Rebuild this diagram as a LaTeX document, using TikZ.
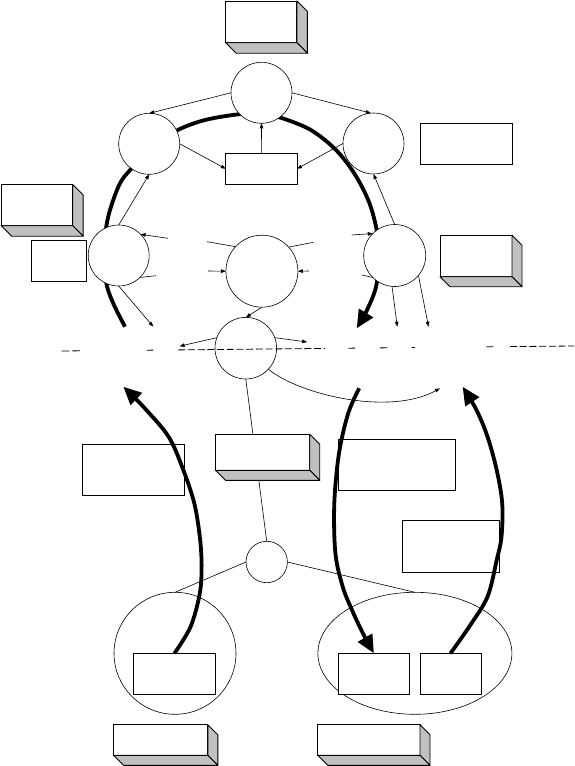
\documentclass[tikz,border=0pt]{standalone}
\usetikzlibrary{arrows.meta,shapes.geometric,backgrounds}
\definecolor{shade}{HTML}{C0C0C0}
\tikzset{
  ring/.style={circle, draw, line width=0.6pt, fill=white, inner sep=0pt, outer sep=0pt},
  oval/.style={ellipse, draw, line width=0.6pt, inner sep=0pt, outer sep=0pt},
  plainbox/.style={rectangle, draw, line width=0.9pt, fill=white, inner sep=0pt, outer sep=0pt, anchor=north west},
  face/.style={fill=shade, draw, line width=0.9pt, line join=round},
  conn/.style={line width=0.6pt, -{Triangle[length=5pt,width=3.6pt]}},
  stub/.style={line width=0.6pt},
  bigarrow/.style={line width=3.8pt, line cap=butt, -{Triangle[length=18pt,width=16pt]}},
  bigline/.style={line width=3.8pt, line cap=butt},
  dashrule/.style={line width=0.8pt},
}
\newcommand{\deepbox}[6]{%
  \node[plainbox, minimum width=#4pt, minimum height=#5pt] (#1) at (#2,#3) {};
  \filldraw[face] (#1.north east) -- ++(#6,#6) -- ([shift={(#6,#6)}]#1.south east) -- (#1.south east) -- cycle;
  \filldraw[face] (#1.south west) -- ++(#6,#6) -- ([shift={(#6,#6)}]#1.south east) -- (#1.south east) -- cycle;
}
\begin{document}
\begin{tikzpicture}[x=1pt,y=-1pt]
\useasboundingbox (0,0) rectangle (574,766);

% circles
\node[ring, minimum size=61pt] (tc) at (261.5,92.8) {};
\node[ring, minimum size=61pt] (ul) at (149.2,143.8) {};
\node[ring, minimum size=61pt] (ur) at (373.5,143.5) {};
\node[ring, minimum size=61pt] (ml) at (118.7,255.5) {};
\node[ring, minimum size=72pt] (mc) at (261.9,271.2) {};
\node[ring, minimum size=62pt] (mr) at (394.7,255.5) {};
\node[ring, minimum size=61.6pt] (lc) at (245.8,348.2) {};
\node[ring, minimum size=41.4pt] (sc) at (266.7,562) {};
\node[oval, minimum width=122pt, minimum height=122pt] (le) at (175,653.3) {};
\node[oval, minimum width=194pt, minimum height=122pt] (re) at (414.9,653.3) {};

% plain boxes
\node[plainbox, minimum width=92pt, minimum height=41pt] (rb) at (420,123.3) {};
\node[plainbox, minimum width=71.2pt, minimum height=31pt] (cb) at (225.8,153.3) {};
\node[plainbox, minimum width=54.6pt, minimum height=41pt] (slb) at (31.5,240) {};
\node[plainbox, minimum width=101.6pt, minimum height=51pt] (lpb) at (82.8,444.3) {};
\node[plainbox, minimum width=117.6pt, minimum height=50.7pt] (rpa) at (338,439.3) {};
\node[plainbox, minimum width=97.3pt, minimum height=51.6pt] (rpb) at (402,520.7) {};
\node[plainbox, minimum width=82.1pt, minimum height=41pt] (lib) at (133.4,653.3) {};
\node[plainbox, minimum width=71.8pt, minimum height=41pt] (ria) at (338,653.3) {};
\node[plainbox, minimum width=61pt, minimum height=41pt] (rib) at (420,653.3) {};

% 3D boxes
\deepbox{tb}{225.8}{1}{71.1}{41.7}{10.5}
\deepbox{lbb}{1.1}{184.4}{71.5}{41.3}{10.5}
\deepbox{rbb}{440}{235.3}{72}{41.4}{10}
\deepbox{cbb}{215.5}{434.3}{94.2}{36}{10}
\deepbox{blb}{113.6}{724.7}{94.2}{30.6}{10}
\deepbox{brb}{317.8}{724.7}{102.2}{30.6}{10}

% background: big arc and vertical spine
\begin{pgfonlayer}{background}
\draw[bigarrow] plot[smooth, tension=0.55] coordinates {(125,326.7) (114,305) (106.7,285) (104,258) (105.5,232) (110,210) (120,183.3) (131.7,168.3) (153,146) (177.8,130) (205,120) (238.3,114.3) (260,113.5) (280,117.5) (310,129.5) (335,149) (354,173) (369,202) (377,232) (378.5,260) (376,287) (367,310) (356.7,328.3)};
\draw[stub] (lc.south) -- (sc.north);
\end{pgfonlayer}

% free ends
\coordinate (mlin) at (167.9,238.3);
\coordinate (mls) at (156,275.7);
\coordinate (mld) at (153.3,326.7);
\coordinate (mcsa) at (207,241.7);
\coordinate (mcina) at (208.2,271);
\coordinate (mcsb) at (313.4,242.3);
\coordinate (mcinb) at (309,271);
\coordinate (mrin) at (351.7,235);
\coordinate (mrs) at (361.7,275);
\coordinate (mrda) at (397.3,326.7);
\coordinate (mrdb) at (428.5,326.7);
\coordinate (lcl) at (179.6,346.2);
\coordinate (lcr) at (307.2,342);
\coordinate (lcc) at (440,388.3);

% thin connectors
\draw[conn] (tc.180) -- (ul.90);
\draw[conn] (tc.0) -- (ur.95);
\draw[conn] (cb.north) -- (tc.south);
\draw[conn] (ul.0) -- (cb.west);
\draw[conn] (ur.180) -- (cb.east);
\draw[conn] (ml.north) -- (ul.south);
\draw[conn] (mr.north) -- (ur.south);
\draw[conn] (mlin) -- (ml.44);
\draw[stub] (mls) -- (ml.-46);
\draw[conn] (ml.south) -- (mld);
\draw[stub] (mcsa) -- (mc.137);
\draw[conn] (mcina) -- (mc.180);
\draw[stub] (mcsb) -- (mc.42);
\draw[conn] (mcinb) -- (mc.0);
\draw[conn] (mc.south) -- (lc.north);
\draw[conn] (mrin) -- (mr.135);
\draw[stub] (mrs) -- (mr.225);
\draw[conn] (mr.265) -- (mrda);
\draw[conn] (mr.-40) -- (mrdb);
\draw[conn] (lc.160) -- (lcl);
\draw[conn] (lc.20) -- (lcr);
\draw[conn] (lc.-43) .. controls (300,395) and (390,416) .. (lcc);
\draw[stub] (sc.west) -- (le.north);
\draw[stub] (sc.east) -- (re.north);

% broken dashed rule
\draw[dashrule] (61.7,351) -- (69.3,350.9) (72.3,350.9) -- (80,350.8)
  (146.7,350.2) -- (153.3,350.1) (348.3,348.2) -- (355,348.1)
  (380,347.9) -- (387.3,347.8) (411.7,347.6) -- (415,347.55)
  (486.7,346.85) -- (493.3,346.8);
\draw[dashrule, dash pattern=on 7pt off 2.7pt] (178.3,349.9) -- (325,348.4);
\draw[dashrule, dash pattern=on 7pt off 2.7pt] (510,346.6) -- (574,346);

% thick arrows, lower part
\draw[bigarrow] plot[smooth, tension=0.55] coordinates {(lib.north) (190.6,626.7) (199.8,593.3) (201.6,565) (199.8,536.7) (194.3,503.3) (183.3,470) (168.6,436.7) (143.3,406.7) (123.3,386.7)};
\draw[bigarrow] plot[smooth, tension=0.55] coordinates {(359.2,388.3) (348.2,413.3) (339,453.3) (334.3,503.3) (335.4,553.3) (342.7,586.7) (352,610) (362.9,633.3) (ria.north)};
\draw[bigarrow] plot[smooth, tension=0.55] coordinates {(rib.north) (469.2,626.7) (487.5,596.7) (496.7,560) (501.5,536.7) (502.2,503.3) (496.7,470) (487.5,436.7) (476.5,410) (462.6,386.7)};
\end{tikzpicture}
\end{document}
